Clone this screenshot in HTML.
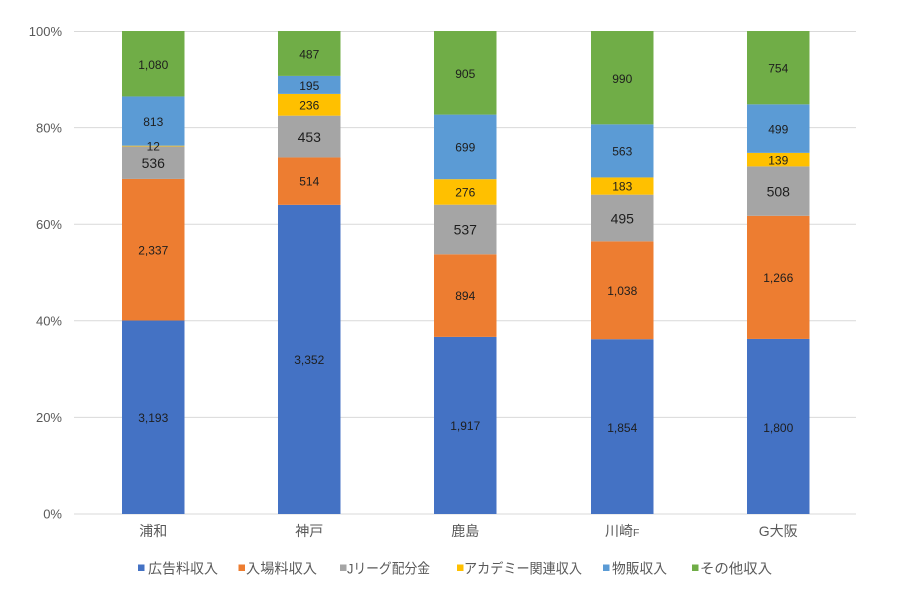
<!DOCTYPE html>
<html><head><meta charset="utf-8"><style>
html,body{margin:0;padding:0;background:#fff;}
svg{display:block;}
text{font-family:"Liberation Sans","Noto Sans CJK JP",sans-serif;}
</style></head><body>
<svg width="901" height="590" viewBox="0 0 901 590" xmlns="http://www.w3.org/2000/svg">
<rect width="901" height="590" fill="#fff"/>
<g stroke="#d9d9d9" stroke-width="1">
<line x1="74" x2="856" y1="31.5" y2="31.5"/>
<line x1="74" x2="856" y1="127.6" y2="127.6"/>
<line x1="74" x2="856" y1="224.2" y2="224.2"/>
<line x1="74" x2="856" y1="320.8" y2="320.8"/>
<line x1="74" x2="856" y1="417.4" y2="417.4"/>
<line x1="74" x2="856" y1="514" y2="514"/>
</g>
<g fill="#595959" font-size="13" text-anchor="end">
<text x="62" y="36">100%</text>
<text x="62" y="132.5">80%</text>
<text x="62" y="229">60%</text>
<text x="62" y="325.5">40%</text>
<text x="62" y="422">20%</text>
<text x="62" y="518.5">0%</text>
</g>
<!-- 浦和 -->
<g>
<rect x="122" y="320.52" width="62.5" height="193.48" fill="#4472C4"/>
<rect x="122" y="178.91" width="62.5" height="141.61" fill="#ED7D31"/>
<rect x="122" y="146.43" width="62.5" height="32.48" fill="#A5A5A5"/>
<rect x="122" y="145.70" width="62.5" height="0.73" fill="#FFC000"/>
<rect x="122" y="96.44" width="62.5" height="49.26" fill="#5B9BD5"/>
<rect x="122" y="31" width="62.5" height="65.44" fill="#70AD47"/>
</g>
<!-- 神戸 -->
<g>
<rect x="278" y="204.85" width="62.5" height="309.15" fill="#4472C4"/>
<rect x="278" y="157.44" width="62.5" height="47.41" fill="#ED7D31"/>
<rect x="278" y="115.67" width="62.5" height="41.77" fill="#A5A5A5"/>
<rect x="278" y="93.90" width="62.5" height="21.77" fill="#FFC000"/>
<rect x="278" y="75.91" width="62.5" height="17.99" fill="#5B9BD5"/>
<rect x="278" y="31" width="62.5" height="44.91" fill="#70AD47"/>
</g>
<!-- 鹿島 -->
<g>
<rect x="434" y="336.89" width="62.5" height="177.11" fill="#4472C4"/>
<rect x="434" y="254.30" width="62.5" height="82.59" fill="#ED7D31"/>
<rect x="434" y="204.69" width="62.5" height="49.61" fill="#A5A5A5"/>
<rect x="434" y="179.19" width="62.5" height="25.50" fill="#FFC000"/>
<rect x="434" y="114.61" width="62.5" height="64.58" fill="#5B9BD5"/>
<rect x="434" y="31" width="62.5" height="83.61" fill="#70AD47"/>
</g>
<!-- 川崎F -->
<g>
<rect x="591" y="339.20" width="62.5" height="174.80" fill="#4472C4"/>
<rect x="591" y="241.34" width="62.5" height="97.86" fill="#ED7D31"/>
<rect x="591" y="194.67" width="62.5" height="46.67" fill="#A5A5A5"/>
<rect x="591" y="177.42" width="62.5" height="17.25" fill="#FFC000"/>
<rect x="591" y="124.34" width="62.5" height="53.08" fill="#5B9BD5"/>
<rect x="591" y="31" width="62.5" height="93.34" fill="#70AD47"/>
</g>
<!-- G大阪 -->
<g>
<rect x="747" y="338.93" width="62.5" height="175.07" fill="#4472C4"/>
<rect x="747" y="215.80" width="62.5" height="123.13" fill="#ED7D31"/>
<rect x="747" y="166.39" width="62.5" height="49.41" fill="#A5A5A5"/>
<rect x="747" y="152.87" width="62.5" height="13.52" fill="#FFC000"/>
<rect x="747" y="104.33" width="62.5" height="48.54" fill="#5B9BD5"/>
<rect x="747" y="31" width="62.5" height="73.33" fill="#70AD47"/>
</g>
<!-- data labels -->
<g fill="#1e1e1e" font-size="12" text-anchor="middle" dominant-baseline="central">
<text x="153.25" y="418">3,193</text>
<text x="153.25" y="250.5">2,337</text>
<text x="153.25" y="146.5">12</text>
<text x="153.25" y="122">813</text>
<text x="153.25" y="65">1,080</text>

<text x="309.25" y="360">3,352</text>
<text x="309.25" y="181.5">514</text>
<text x="309.25" y="105.5">236</text>
<text x="309.25" y="86">195</text>
<text x="309.25" y="54.5">487</text>

<text x="465.25" y="426">1,917</text>
<text x="465.25" y="296">894</text>
<text x="465.25" y="192.5">276</text>
<text x="465.25" y="147.5">699</text>
<text x="465.25" y="74">905</text>

<text x="622.25" y="428">1,854</text>
<text x="622.25" y="291">1,038</text>
<text x="622.25" y="186.5">183</text>
<text x="622.25" y="151.5">563</text>
<text x="622.25" y="79">990</text>

<text x="778.25" y="428">1,800</text>
<text x="778.25" y="278">1,266</text>
<text x="778.25" y="160.5">139</text>
<text x="778.25" y="129.5">499</text>
<text x="778.25" y="68.5">754</text>
</g>
<g fill="#1e1e1e" font-size="14" text-anchor="middle" dominant-baseline="central">
<text x="153.25" y="163">536</text>
<text x="309.25" y="137">453</text>
<text x="465.25" y="229.5">537</text>
<text x="622.25" y="218.5">495</text>
<text x="778.25" y="191.5">508</text>
</g>
<!-- category labels -->
<g fill="#595959" font-size="14" text-anchor="middle">
<text x="153.25" y="536">浦和</text>
<text x="309.25" y="536">神戸</text>
<text x="465.25" y="536">鹿島</text>
<text x="622.25" y="536">川崎<tspan font-size="10.5">F</tspan></text>
<text x="778.25" y="536">G大阪</text>
</g>
<!-- legend -->
<g font-size="14" fill="#595959">
<rect x="138" y="564.5" width="6.5" height="6.5" fill="#4472C4"/>
<text x="148" y="573.5" textLength="70" lengthAdjust="spacingAndGlyphs">広告料収入</text>
<rect x="238.5" y="564.5" width="6.5" height="6.5" fill="#ED7D31"/>
<text x="246" y="573.5" textLength="71" lengthAdjust="spacingAndGlyphs">入場料収入</text>
<rect x="340" y="564.5" width="6.5" height="6.5" fill="#A5A5A5"/>
<text x="347" y="573.5" textLength="83" lengthAdjust="spacingAndGlyphs">Jリーグ配分金</text>
<rect x="457" y="564.5" width="6.5" height="6.5" fill="#FFC000"/>
<text x="464" y="573.5" textLength="118" lengthAdjust="spacingAndGlyphs">アカデミー関連収入</text>
<rect x="603" y="564.5" width="6.5" height="6.5" fill="#5B9BD5"/>
<text x="612" y="573.5" textLength="55" lengthAdjust="spacingAndGlyphs">物販収入</text>
<rect x="692" y="564.5" width="6.5" height="6.5" fill="#70AD47"/>
<text x="700" y="573.5" textLength="72" lengthAdjust="spacingAndGlyphs">その他収入</text>
</g>
</svg>
</body></html>
